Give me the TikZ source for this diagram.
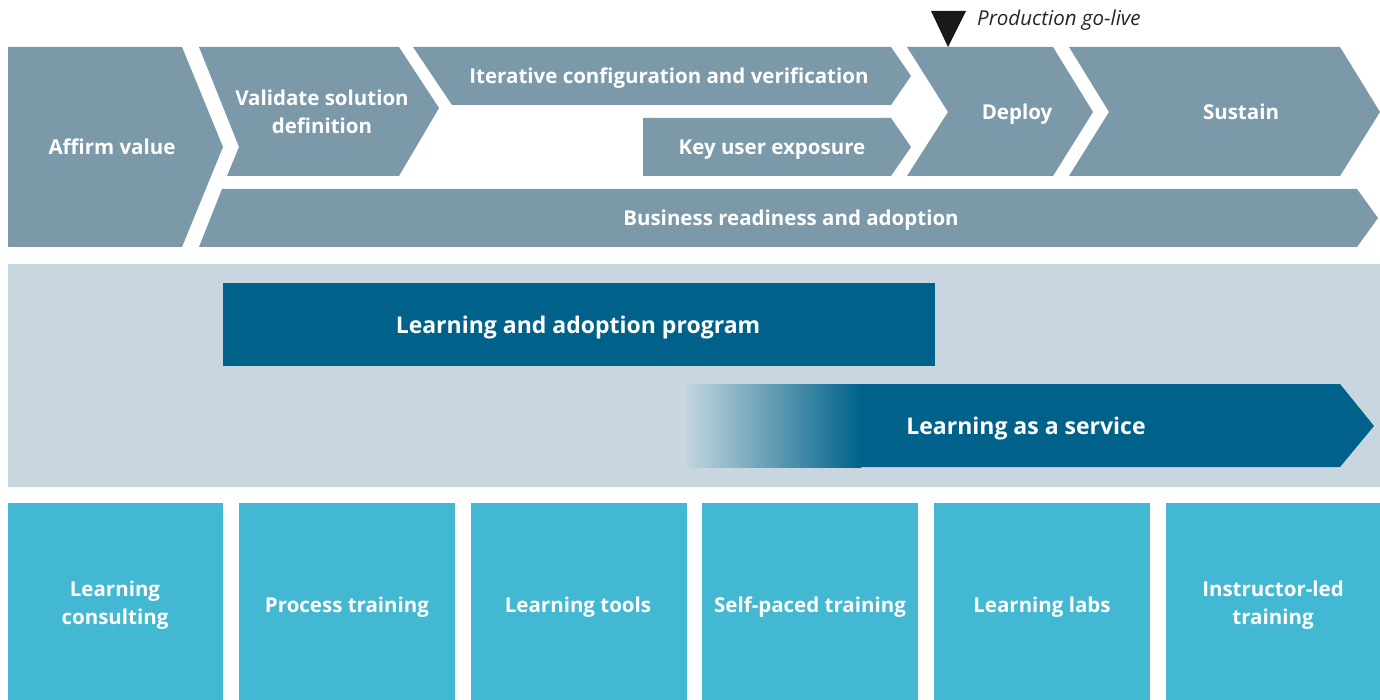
\documentclass[tikz,border=0pt]{standalone}
\usepackage{fontspec}
\setmainfont{Open Sans}
\begin{document}
\begin{tikzpicture}[x=1pt,y=-1pt,
  chev/.style={fill=chevgray},
  lbl/.style={text=white,font=\bfseries\fontsize{20.5}{28}\selectfont,align=center,inner sep=0pt},
  lbls/.style={lbl,anchor=base},
  biglbl/.style={text=white,font=\bfseries\fontsize{23}{27}\selectfont,align=center,inner sep=0pt,anchor=base},
  tile/.style={fill=tilecyan}]
\definecolor{chevgray}{HTML}{7B99A9}
\definecolor{bandgray}{HTML}{C8D7DF}
\definecolor{darkblue}{HTML}{00628A}
\definecolor{tilecyan}{HTML}{42B8D2}
\definecolor{fadestart}{HTML}{C2D5DE}
\useasboundingbox (0,0) rectangle (1380,700);
\fill[white] (0,0) rectangle (1380,700);
% top chevrons
\fill[chev] (8,47) -- (182,47) -- (223,147) -- (182,247) -- (8,247) -- cycle;
\fill[chev] (199,47) -- (399,47) -- (439,108) -- (399,176) -- (227,176) -- (239,147) -- cycle;
\fill[chev] (413,47) -- (891,47) -- (911,76) -- (891,105) -- (452,105) -- cycle;
\fill[chev] (643,118) -- (891,118) -- (911,147) -- (891,176) -- (643,176) -- cycle;
\fill[chev] (907,47) -- (1053,47) -- (1093,112) -- (1053,176) -- (907,176) -- (948,112) -- cycle;
\fill[chev] (1069,47) -- (1340,47) -- (1380,112) -- (1340,176) -- (1069,176) -- (1109,112) -- cycle;
\fill[chev] (222,189) -- (1357,189) -- (1378,218) -- (1357,247) -- (199,247) -- cycle;
% go-live marker
\fill[black!90] (931,11) -- (966,11) -- (948,47) -- cycle;
\node[anchor=base west,inner sep=0pt,font=\itshape\fontsize{20.5}{22}\selectfont,text=black!85] (golive) at (977,26) {Production go-live};
\node[lbls] (affirm) at (112,155) {Affirm value};
\node[lbl] (validate) at (322,112) {Validate solution\\definition};
\node[lbls] (iter) at (669,84) {Iterative configuration and verification};
\node[lbls] (keyuser) at (772,155) {Key user exposure};
\node[lbls] (deploy) at (1017,120) {Deploy};
\node[lbls] (sustain) at (1241,120) {Sustain};
\node[lbls] (business) at (791,226) {Business readiness and adoption};
% middle band
\fill[bandgray] (8,264) rectangle (1380,487);
\fill[darkblue] (223,283) rectangle (935,366);
\node[biglbl] (lap) at (578,333) {Learning and adoption program};
\shade[left color=fadestart,right color=darkblue] (686,384) rectangle (861,467);
\fill[darkblue] (860,384) -- (1340,384) -- (1374,426) -- (1340,467) -- (860,467) -- cycle;
\node[biglbl] (laas) at (1026,434) {Learning as a service};
% bottom tiles
\fill[tile] (8,503) rectangle (223,700);
\fill[tile] (239,503) rectangle (455,700);
\fill[tile] (471,503) rectangle (687,700);
\fill[tile] (702,503) rectangle (918,700);
\fill[tile] (934,503) rectangle (1150,700);
\fill[tile] (1166,503) rectangle (1380,700);
\node[lbl] (t1) at (115,605) {Learning\\consulting};
\node[lbls] (t2) at (347,612) {Process training};
\node[lbls] (t3) at (578,612) {Learning tools};
\node[lbls] (t4) at (810,612) {Self-paced training};
\node[lbls] (t5) at (1042,612) {Learning labs};
\node[lbl] (t6) at (1273,605) {Instructor-led\\training};
\end{tikzpicture}
\end{document}
